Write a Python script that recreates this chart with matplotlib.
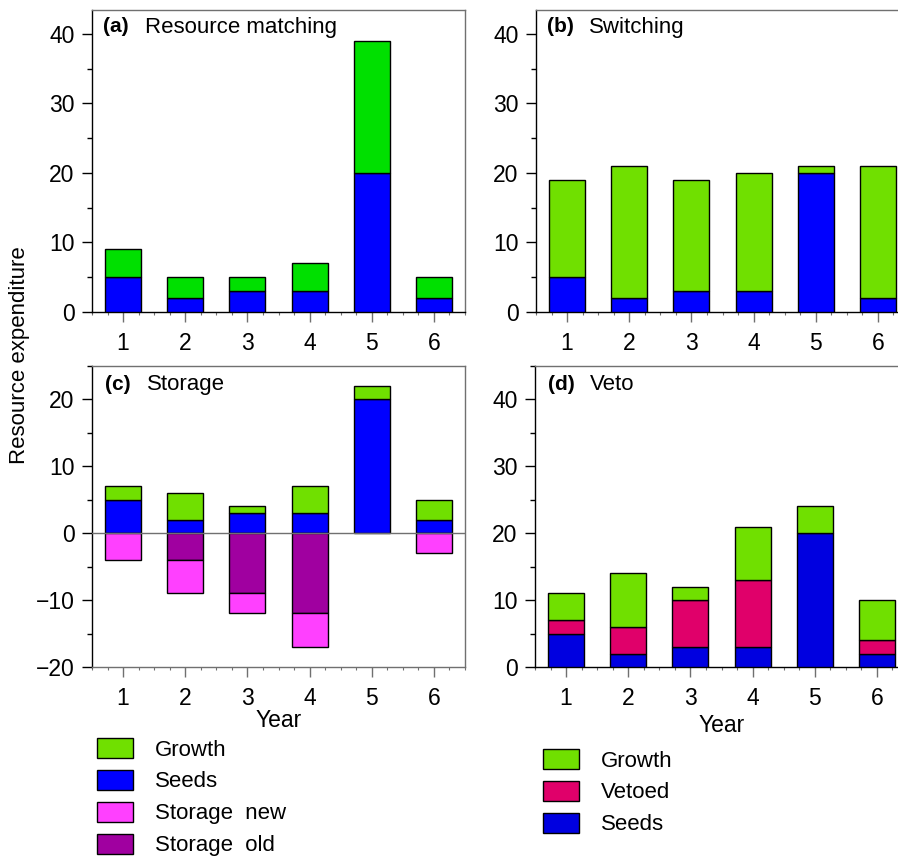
import matplotlib
matplotlib.use("Agg")
import matplotlib.pyplot as plt
import numpy as np
from matplotlib.patches import Patch
from matplotlib.ticker import MultipleLocator

plt.rcParams['font.family'] = ['Liberation Sans', 'DejaVu Sans']

years = [1, 2, 3, 4, 5, 6]
year_labels = ["1", "2", "3", "4", "5", "6"]

# (a) Resource matching
a_seeds = [5, 2, 3, 3, 20, 2]
a_growth = [4, 3, 2, 4, 19, 3]
# (b) Switching
b_seeds = [5, 2, 3, 3, 20, 2]
b_growth = [14, 19, 16, 17, 1, 19]
# (c) Storage
c_seeds = [5, 2, 3, 3, 20, 2]
c_growth = [2, 4, 1, 4, 2, 3]
c_storage_old = [0, 4, 9, 12, 0, 0]
c_storage_new = [4, 5, 3, 5, 0, 3]
# (d) Veto
d_seeds = [5, 2, 3, 3, 20, 2]
d_vetoed = [2, 4, 7, 10, 0, 2]
d_growth = [4, 8, 2, 8, 4, 6]

GREEN_A = '#00e000'
GREEN = '#70e000'
BLUE = '#0000ff'
BLUE_D = '#0000e0'
PINK = '#ff40ff'
PURPLE = '#a000a0'
VETO = '#e0006a'
SPINE_GRAY = '#707070'

TICK_FS = 16.5
TEXT_FS = 16

W, H = 898, 856
fig = plt.figure(figsize=(W / 100, H / 100), dpi=100)


def make_ax(left, top, right, bottom):
    return fig.add_axes([left / W, 1 - bottom / H, (right - left) / W, (bottom - top) / H])


axA = make_ax(92, 10, 465, 312)
axB = make_ax(536, 10, 909, 312)
axC = make_ax(92, 366, 465, 667)
axD = make_ax(535, 366, 908, 667)

BW = 0.58
kw = dict(width=BW, edgecolor='black', linewidth=1.0, zorder=3)

x = np.array(years)

# (a)
axA.bar(x, a_seeds, color=BLUE, **kw)
axA.bar(x, a_growth, bottom=a_seeds, color=GREEN_A, **kw)
# (b)
axB.bar(x, b_seeds, color=BLUE, **kw)
axB.bar(x, b_growth, bottom=b_seeds, color=GREEN, **kw)
# (c)
axC.bar(x, c_seeds, color=BLUE, **kw)
axC.bar(x, c_growth, bottom=c_seeds, color=GREEN, **kw)
old_neg = -np.array(c_storage_old)
new_neg = -np.array(c_storage_new)
mask_old = np.array(c_storage_old) > 0
mask_new = np.array(c_storage_new) > 0
axC.bar(x[mask_old], old_neg[mask_old], color=PURPLE, **kw)
axC.bar(x[mask_new], new_neg[mask_new], bottom=old_neg[mask_new], color=PINK, **kw)
axC.axhline(0, color=SPINE_GRAY, linewidth=1.0, zorder=4)
# (d)
dv = np.array(d_vetoed)
axD.bar(x, d_seeds, color=BLUE_D, **kw)
mask_v = dv > 0
axD.bar(x[mask_v], dv[mask_v], bottom=np.array(d_seeds)[mask_v], color=VETO, **kw)
axD.bar(x, d_growth, bottom=np.array(d_seeds) + dv, color=GREEN, **kw)

for ax in (axA, axB, axC, axD):
    ax.set_xlim(0.5, 6.5)
    ax.set_xticks(years)
    ax.set_xticklabels(year_labels)
    ax.xaxis.set_minor_locator(MultipleLocator(0.25))
    ax.yaxis.set_major_locator(MultipleLocator(10))
    ax.yaxis.set_minor_locator(MultipleLocator(5))
    ax.tick_params(axis='both', which='major', labelsize=TICK_FS, direction='out')
    ax.tick_params(axis='y', which='major', length=7.5, width=1.0, color='black', pad=5)
    ax.tick_params(axis='y', which='minor', length=3.5, width=1.0, color='black')
    ax.tick_params(axis='x', which='major', length=7.5, width=1.0, color=SPINE_GRAY, pad=7)
    ax.tick_params(axis='x', which='minor', length=2.0, width=0.8, color=SPINE_GRAY)
    ax.spines['left'].set_color('black')
    ax.spines['bottom'].set_color('black')
    ax.spines['top'].set_color(SPINE_GRAY)
    ax.spines['right'].set_color(SPINE_GRAY)
    for s in ax.spines.values():
        s.set_linewidth(1.0)

axA.set_ylim(0, 43.45)
axB.set_ylim(0, 43.45)
axC.set_ylim(-20, 25)
axD.set_ylim(0, 45)
axC.spines['bottom'].set_color(SPINE_GRAY)

axC.set_xlabel('Year', fontsize=TEXT_FS + 0.5, labelpad=-1)
axD.set_xlabel('Year', fontsize=TEXT_FS + 0.5, labelpad=3)

fig.text(20 / W, 1 - 355 / H, 'Resource expenditure', rotation=90, fontsize=TEXT_FS,
         ha='center', va='center')

panels = [(axA, '(a)', 'Resource matching', 103, 27),
          (axB, '(b)', 'Switching', 547, 27),
          (axC, '(c)', 'Storage', 105, 384),
          (axD, '(d)', 'Veto', 548, 384)]
for ax, lab, title, px, py in panels:
    fig.text(px / W, 1 - py / H, lab, fontsize=TEXT_FS - 1, fontweight='bold', ha='left', va='center')
    fig.text((px + 42) / W, 1 - py / H, title, fontsize=TEXT_FS, ha='left', va='center')

leg_kw = dict(frameon=False, fontsize=TEXT_FS, handlelength=1.62, handleheight=1.0,
              handletextpad=1.0, labelspacing=0.42, borderpad=0, borderaxespad=0,
              loc='upper left')

h1 = [Patch(facecolor=GREEN, edgecolor='black', linewidth=1.0),
      Patch(facecolor=BLUE, edgecolor='black', linewidth=1.0),
      Patch(facecolor=PINK, edgecolor='black', linewidth=1.0),
      Patch(facecolor=PURPLE, edgecolor='black', linewidth=1.0)]
l1 = ['Growth', 'Seeds', 'Storage  new', 'Storage  old']
fig.legend(h1, l1, bbox_to_anchor=(97 / W, 1 - 738 / H), **leg_kw)

h2 = [Patch(facecolor=GREEN, edgecolor='black', linewidth=1.0),
      Patch(facecolor=VETO, edgecolor='black', linewidth=1.0),
      Patch(facecolor=BLUE_D, edgecolor='black', linewidth=1.0)]
l2 = ['Growth', 'Vetoed', 'Seeds']
fig.legend(h2, l2, bbox_to_anchor=(543 / W, 1 - 749 / H), **leg_kw)

fig.savefig('out.png', dpi=100)
